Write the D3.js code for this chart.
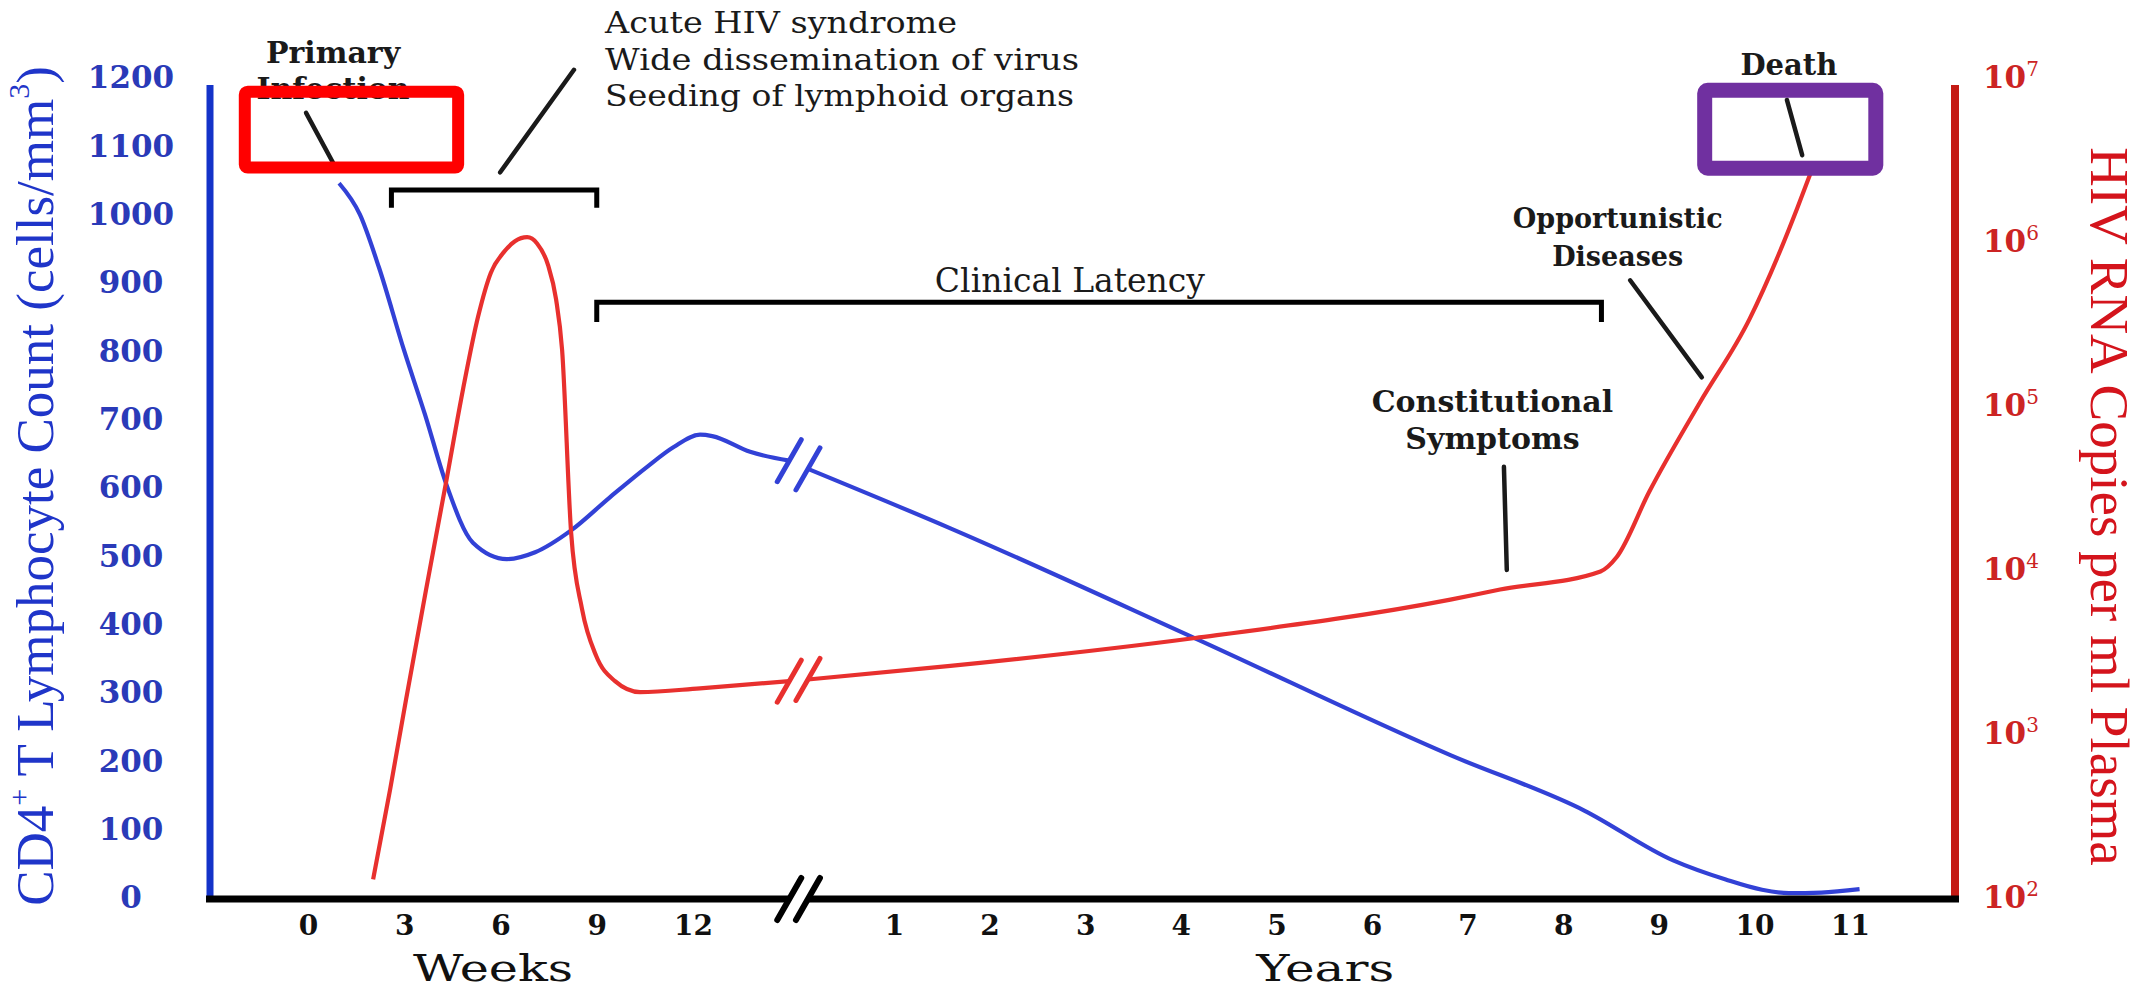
<!DOCTYPE html>
<html>
<head>
<meta charset="utf-8">
<script src="https://cdnjs.cloudflare.com/ajax/libs/d3/7.8.5/d3.min.js"></script>
<style>
body { margin: 0; background: #fff; }
svg { display: block; }
</style>
</head>
<body>
<div class="chart"></div>
<script>
// Tick values
var weekTicks = [0, 3, 6, 9, 12];
var yearTicks = [1, 2, 3, 4, 5, 6, 7, 8, 9, 10, 11];
var cd4Ticks = [0, 100, 200, 300, 400, 500, 600, 700, 800, 900, 1000, 1100, 1200];
var rnaTicks = [1e2, 1e3, 1e4, 1e5, 1e6, 1e7];

// CD4+ T count (cells/mm3), [week, value] then [year, value]
var cd4Weeks = [[0.97, 1046], [1.62, 1000], [2.21, 923], [2.99, 802], [3.65, 707], [4.3, 607],
	[5.14, 520], [6.2, 496], [7.08, 506], [8.2, 538], [9.4, 586], [10.57, 631], [11.4, 660],
	[12.22, 678], [12.6, 676], [13.78, 653], [15, 640]];
var cd4Years = [[0.1, 628], [1.59, 541], [4.15, 380], [6.82, 209], [8.22, 128], [9.15, 55],
	[9.7, 27], [10.08, 12], [10.36, 7], [10.7, 8], [11.1, 13]];

// HIV RNA copies per ml plasma, [week, copies] then [year, copies]
var rnaWeeks = [[2.03, 130], [2.56, 460], [3.05, 1600], [3.68, 7600], [4.3, 34000], [4.83, 126000],
	[5.3, 350000], [5.7, 650000], [6.11, 870000], [6.45, 1010000], [6.83, 1070000], [7.14, 980000],
	[7.48, 725000], [7.73, 450000], [7.92, 220000], [8.2, 17000], [8.54, 5800], [8.98, 3000],
	[9.57, 2100], [10.35, 1800], [12.22, 1900], [15, 2100]];
var rnaYears = [[0.1, 2150], [1.59, 2600], [4.15, 3850], [6.82, 6600], [7.34, 7600], [8.39, 9800],
	[8.56, 12000], [8.9, 30000], [9.43, 105000], [9.95, 340000], [10.25, 830000], [10.45, 1620000],
	[10.6, 2750000]];

var svg_w = 2143;
var svg_h = 991;
var svg = d3.select("div.chart").append("svg")
.attr("width", svg_w)
.attr("height", svg_h);

var leftX = 210, rightX = 1955, axisTop = 85, baseY = 899;

var xWeeks = d3.scaleLinear().domain([0, 12]).range([308, 693]);
var xYears = d3.scaleLinear().domain([1, 11]).range([894, 1850]);
var yCD4 = d3.scaleLinear().domain([0, 1200]).range([898, 78]);
var yRNA = d3.scaleLog().domain([1e2, 1e7]).range([898, 78]);

// position helper for annotations given in weeks or years
function px(p) {
	return p.w !== undefined ? xWeeks(p.w) : xYears(p.yr);
}

var serif = "'Liberation Serif', 'Times New Roman', serif";
var wide = "'DejaVu Serif', Georgia, serif";

// Curves
var cd4Line = function(sc) {
	return d3.line().x(function(d) { return sc(d[0]); }).y(function(d) { return yCD4(d[1]); }).curve(d3.curveMonotoneX);
};
var rnaLine = function(sc) {
	return d3.line().x(function(d) { return sc(d[0]); }).y(function(d) { return yRNA(d[1]); }).curve(d3.curveMonotoneX);
};

var curves = [
	{data: cd4Weeks, gen: cd4Line(xWeeks), color: "#3241d6"},
	{data: cd4Years, gen: cd4Line(xYears), color: "#3241d6"},
	{data: rnaWeeks, gen: rnaLine(xWeeks), color: "#e8302e"},
	{data: rnaYears, gen: rnaLine(xYears), color: "#e8302e"}
];

svg.append("g").selectAll("path")
.data(curves)
.enter()
.append("path")
.attr("d", function(d) { return d.gen(d.data); })
.attr("fill", "none")
.attr("stroke", function(d) { return d.color; })
.attr("stroke-width", 4.2);

// break marks "//"
var breakA = xWeeks(cd4Weeks[cd4Weeks.length - 1][0]);
var breakB = xYears(cd4Years[0][0]);

function breakMark(cx, cy, color, w) {
	svg.append("line")
	.attr("x1", cx - 12).attr("y1", cy + 21)
	.attr("x2", cx + 12).attr("y2", cy - 21)
	.attr("stroke", color)
	.attr("stroke-width", w)
	.attr("stroke-linecap", "round");
}
breakMark(breakA, yCD4(cd4Weeks[cd4Weeks.length - 1][1]), "#3241d6", 5);
breakMark(breakB, yCD4(cd4Years[0][1]), "#3241d6", 5);
breakMark(breakA, yRNA(rnaWeeks[rnaWeeks.length - 1][1]), "#e8302e", 5);
breakMark(breakB, yRNA(rnaYears[0][1]), "#e8302e", 5);

// Axis lines
svg.append("line")
.attr("x1", leftX).attr("y1", axisTop).attr("x2", leftX).attr("y2", baseY + 3)
.attr("stroke", "#1433c9").attr("stroke-width", 7);
svg.append("line")
.attr("x1", rightX).attr("y1", axisTop).attr("x2", rightX).attr("y2", baseY + 3)
.attr("stroke", "#c41a14").attr("stroke-width", 8);
svg.append("line")
.attr("x1", leftX - 4).attr("y1", baseY).attr("x2", breakA).attr("y2", baseY)
.attr("stroke", "#000").attr("stroke-width", 7);
svg.append("line")
.attr("x1", breakB).attr("y1", baseY).attr("x2", rightX + 4).attr("y2", baseY)
.attr("stroke", "#000").attr("stroke-width", 7);
breakMark(breakA, baseY, "#000", 6);
breakMark(breakB, baseY, "#000", 6);

// Left axis labels
var gLeft = svg.append("g")
.attr("transform", "translate(131,0)")
.call(d3.axisLeft(yCD4).tickValues(cd4Ticks).tickSize(0).tickPadding(0).tickFormat(d3.format("d")));
gLeft.select(".domain").remove();
gLeft.selectAll("text")
.attr("text-anchor", "middle")
.attr("fill", "#2a3ab8")
.style("font-family", wide)
.style("font-weight", "bold")
.style("font-size", "31px");

// Right axis labels 10^n
var gRight = svg.append("g")
.attr("transform", "translate(1983,0)")
.call(d3.axisRight(yRNA).tickValues(rnaTicks).tickSize(0).tickPadding(0).tickFormat(function() { return ""; }));
gRight.select(".domain").remove();
gRight.selectAll("text")
.attr("text-anchor", "start")
.attr("fill", "#cc2424")
.style("font-family", wide)
.style("font-weight", "bold")
.style("font-size", "31px")
.each(function(d) {
	var t = d3.select(this);
	t.append("tspan").text("10");
	t.append("tspan")
	.attr("baseline-shift", "super")
	.style("font-size", "20px")
	.style("font-weight", "normal")
	.text(Math.round(Math.log10(d)));
});

// Bottom axis labels
[[xWeeks, weekTicks], [xYears, yearTicks]].forEach(function(a) {
	var g = svg.append("g")
	.attr("transform", "translate(0," + baseY + ")")
	.call(d3.axisBottom(a[0]).tickValues(a[1]).tickSize(0).tickPadding(16).tickFormat(d3.format("d")));
	g.select(".domain").remove();
	g.selectAll("text")
	.attr("fill", "#111")
	.style("font-family", wide)
	.style("font-weight", "bold")
	.style("font-size", "28px");
});

// Axis titles (stretched to the wide lettering of the original)
var axisTitles = [
	{text: "Weeks", x: xWeeks(5.77), len: 160},
	{text: "Years", x: xYears(5.51), len: 138}
];
svg.selectAll("text.axt")
.data(axisTitles)
.enter()
.append("text")
.attr("class", "axt")
.attr("x", function(d) { return d.x; })
.attr("y", 981)
.attr("text-anchor", "middle")
.attr("textLength", function(d) { return d.len; })
.attr("lengthAdjust", "spacingAndGlyphs")
.attr("fill", "#111")
.style("font-family", wide)
.style("font-size", "38px")
.text(function(d) { return d.text; });

var lt = svg.append("text")
.attr("transform", "translate(35," + yCD4(603) + ") rotate(-90)")
.attr("text-anchor", "middle")
.attr("dominant-baseline", "central")
.attr("fill", "#1f35c9")
.style("font-family", serif)
.style("font-size", "53px");
lt.append("tspan").text("CD4");
lt.append("tspan").attr("baseline-shift", "super").style("font-size", "30px").text("+");
lt.append("tspan").text(" T Lymphocyte Count (cells/mm");
lt.append("tspan").attr("baseline-shift", "super").style("font-size", "30px").text("3");
lt.append("tspan").text(")");

svg.append("text")
.attr("transform", "translate(2109," + yCD4(573) + ") rotate(90)")
.attr("text-anchor", "middle")
.attr("dominant-baseline", "central")
.attr("fill", "#d4141c")
.style("font-family", serif)
.style("font-size", "55px")
.text("HIV RNA Copies per ml Plasma");

// Annotations
var notes = [
	{lines: ["Primary", "Infection"], at: {w: 0.78}, v: [1237, 1185], bold: true, size: 30, anchor: "middle"},
	{lines: ["Acute HIV syndrome", "Wide dissemination of virus", "Seeding of lymphoid organs"], at: {w: 9.26}, v: [1280, 1227, 1174], bold: false, size: 29, anchor: "start", len: [352, 474, 469]},
	{lines: ["Clinical Latency"], at: {yr: 2.84}, v: [904], bold: false, size: 33, anchor: "middle"},
	{lines: ["Constitutional", "Symptoms"], at: {yr: 7.26}, v: [726, 673], bold: true, size: 30, anchor: "middle"},
	{lines: ["Opportunistic", "Diseases"], at: {yr: 8.57}, v: [994, 938], bold: true, size: 27, anchor: "middle"},
	{lines: ["Death"], at: {yr: 10.36}, v: [1219], bold: true, size: 29, anchor: "middle"}
];

notes.forEach(function(n) {
	n.lines.forEach(function(s, i) {
		var t = svg.append("text")
		.attr("x", px(n.at))
		.attr("y", yCD4(n.v[i]))
		.attr("dy", "0.35em")
		.attr("text-anchor", n.anchor)
		.attr("fill", "#1a1a1a")
		.style("font-family", wide)
		.style("font-weight", n.bold ? "bold" : "normal")
		.style("font-size", n.size + "px")
		.text(s);
		if (n.len) {
			t.attr("textLength", n.len[i]).attr("lengthAdjust", "spacingAndGlyphs");
		}
	});
});

var pointers = [
	[{w: -0.06, v: 1149}, {w: 0.78, v: 1076}],
	[{w: 8.29, v: 1212}, {w: 5.99, v: 1062}],
	[{yr: 7.38, v: 631}, {yr: 7.41, v: 480}],
	[{yr: 8.7, v: 904}, {yr: 9.45, v: 762}],
	[{yr: 10.34, v: 1168}, {yr: 10.5, v: 1087}]
];
svg.append("g").selectAll("line")
.data(pointers)
.enter()
.append("line")
.attr("x1", function(d) { return px(d[0]); })
.attr("y1", function(d) { return yCD4(d[0].v); })
.attr("x2", function(d) { return px(d[1]); })
.attr("y2", function(d) { return yCD4(d[1].v); })
.attr("stroke", "#1a1a1a")
.attr("stroke-width", 4.5)
.attr("stroke-linecap", "round");

// Brackets
var brackets = [
	{from: {w: 2.6}, to: {w: 9.0}, top: 1036, bottom: 1010},
	{from: {w: 9.0}, to: {yr: 8.4}, top: 872, bottom: 843}
];
svg.append("g").selectAll("path")
.data(brackets)
.enter()
.append("path")
.attr("d", function(d) {
	var x0 = px(d.from), x1 = px(d.to), y0 = yCD4(d.top), y1 = yCD4(d.bottom);
	return "M" + x0 + "," + y1 + "V" + y0 + "H" + x1 + "V" + y1;
})
.attr("fill", "none")
.attr("stroke", "#000")
.attr("stroke-width", 5);

// Highlight boxes
var boxes = [
	{from: {w: -1.97}, to: {w: 4.68}, top: 1180, bottom: 1069, color: "#ff0000", w: 12},
	{from: {yr: 9.48}, to: {yr: 11.27}, top: 1182, bottom: 1068, color: "#7030a0", w: 15}
];
svg.append("g").selectAll("rect")
.data(boxes)
.enter()
.append("rect")
.attr("x", function(d) { return px(d.from); })
.attr("y", function(d) { return yCD4(d.top); })
.attr("width", function(d) { return px(d.to) - px(d.from); })
.attr("height", function(d) { return yCD4(d.bottom) - yCD4(d.top); })
.attr("rx", 3)
.attr("fill", "none")
.attr("stroke", function(d) { return d.color; })
.attr("stroke-width", function(d) { return d.w; });
</script>
</body>
</html>
